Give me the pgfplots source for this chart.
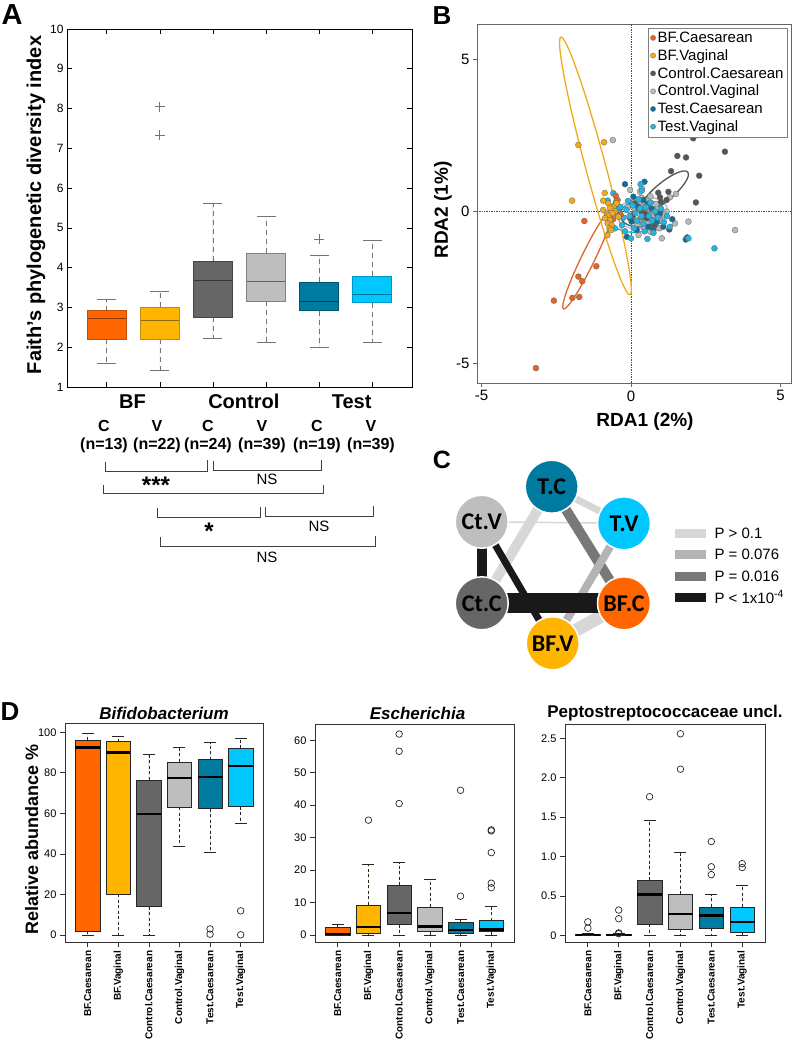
\documentclass[border=0pt]{standalone}
\usepackage{fontspec}
\setmainfont{Liberation Sans}
\newfontfamily\carlito{Carlito}
\usepackage{pgfplots}
\pgfplotsset{compat=1.18}
\usepgfplotslibrary{statistics}
\newcommand{\fs}[1]{\fontsize{#1}{#1}\selectfont}

\definecolor{cBFC}{RGB}{255,102,0}
\definecolor{cBFV}{RGB}{255,180,0}
\definecolor{cCC}{RGB}{102,102,102}
\definecolor{cCV}{RGB}{190,190,190}
\definecolor{cTC}{RGB}{0,123,160}
\definecolor{cTV}{RGB}{0,200,255}
\definecolor{eBFC}{RGB}{190,80,10}
\definecolor{eBFV}{RGB}{190,140,20}
\definecolor{eCC}{RGB}{70,70,70}
\definecolor{eCV}{RGB}{130,130,130}
\definecolor{eTC}{RGB}{0,85,115}
\definecolor{eTV}{RGB}{0,150,200}
\definecolor{pBFC}{RGB}{225,100,40}
\definecolor{pBFV}{RGB}{240,170,30}
\definecolor{pCC}{RGB}{85,85,85}
\definecolor{pCV}{RGB}{185,185,185}
\definecolor{pTC}{RGB}{15,110,150}
\definecolor{pTV}{RGB}{35,180,225}
\definecolor{g1}{RGB}{215,215,215}
\definecolor{g2}{RGB}{180,180,180}
\definecolor{g3}{RGB}{120,120,120}
\definecolor{g4}{RGB}{25,25,25}

% Panel A box: pos, lw, lq, med, uq, uw, fill, edge
\newcommand{\aBox}[8]{%
\addplot[boxplot prepared={draw direction=y, draw position=#1, lower whisker=#2, lower quartile=#3, median=#4, upper quartile=#5, upper whisker=#6, box extend=0.73, whisker extend=0}, fill=#7, draw=#8, line width=0.8pt, boxplot/every whisker/.style={draw=black!55, dash pattern=on 5pt off 4pt, line width=0.7pt}, boxplot/every median/.style={draw=#8!75!black, line width=1pt}] coordinates {};
\addplot[only marks, mark=-, mark size=9.5pt, draw=black!55, mark options={line width=0.9pt}] coordinates {(#1,#2) (#1,#6)};
}
% Panel D box: pos, lw, lq, med, uq, uw, fill
\newcommand{\dBox}[7]{%
\addplot[boxplot prepared={draw direction=y, draw position=#1, lower whisker=#2, lower quartile=#3, median=#4, upper quartile=#5, upper whisker=#6, box extend=0.8, whisker extend=0}, fill=#7, draw=black!85, line width=0.6pt, boxplot/every whisker/.style={draw=black!85, dash pattern=on 3pt off 2.5pt, line width=0.6pt}, boxplot/every median/.style={draw=black, line width=2.4pt}] coordinates {};
\addplot[only marks, mark=-, mark size=6pt, draw=black!85, mark options={line width=0.6pt}] coordinates {(#1,#2) (#1,#6)};
}

\pgfplotsset{
  dax/.style={anchor=north west, scale only axis, xmin=0.26, xmax=6.74,
    xtick={1,2,3,4,5,6},
    xticklabels={BF.Caesarean,BF.Vaginal,Control.Caesarean,Control.Vaginal,Test.Caesarean,Test.Vaginal},
    xticklabel style={rotate=90, anchor=east, font=\bfseries\fs{10}},
    yticklabel style={font=\fs{11}},
    tick align=outside, tick pos=left, major tick length=5pt,
    axis line style={draw=black!80, line width=0.8pt},
    tick style={black!80, line width=0.7pt},
    /pgf/number format/assume math mode=true},
  dout/.style={only marks, mark=o, mark size=3.3pt, black!85, mark options={line width=0.7pt}},
}

\begin{document}
\begin{tikzpicture}
\path[use as bounding box] (0,0) rectangle (792pt,-1049pt);

% ---------------- Panel A ----------------
\begin{axis}[at={(67pt,-29pt)}, anchor=north west, scale only axis, width=345pt, height=358pt,
  xmin=0.25, xmax=6.75, ymin=1, ymax=10, xtick={1,2,3,4,5,6}, xticklabels={}, ytick={1,2,...,10},
  tick align=inside, major tick length=5pt, axis line style={line width=0.8pt},
  tick style={line width=0.7pt, black},
  yticklabel style={font=\fs{12}}, /pgf/number format/assume math mode=true]
\aBox{1}{1.59}{2.20}{2.71}{2.92}{3.19}{cBFC}{eBFC}
\aBox{2}{1.42}{2.20}{2.68}{3.00}{3.39}{cBFV}{eBFV}
\aBox{3}{2.21}{2.75}{3.68}{4.16}{5.61}{cCC}{eCC}
\aBox{4}{2.12}{3.15}{3.66}{4.36}{5.30}{cCV}{eCV}
\aBox{5}{2.00}{2.92}{3.15}{3.63}{4.30}{cTC}{eTC}
\aBox{6}{2.12}{3.12}{3.33}{3.78}{4.69}{cTV}{eTV}
\addplot[only marks, mark=+, mark size=5pt, black!55, mark options={line width=0.8pt}] coordinates {(2,8.05) (2,7.33) (5,4.71)};
\end{axis}

% ---------------- Panel B ----------------
\begin{axis}[at={(477pt,-24pt)}, anchor=north west, scale only axis, width=314pt, height=359pt,
  xmin=-5.15, xmax=5.35, ymin=-5.64, ymax=6.17, xtick={-5,0,5}, ytick={-5,0,5},
  tick align=outside, tick pos=left, major tick length=4pt,
  axis line style={draw=black!60, line width=0.8pt}, tick style={black!60, line width=0.7pt},
  tick label style={font=\fs{15}}, /pgf/number format/assume math mode=true,
  legend style={at={(0.99,0.99)}, anchor=north east, draw=black!50, line width=0.6pt, font=\fs{15}, inner sep=2pt, row sep=1.5pt, cells={anchor=west}},
  legend cell align=left,
  legend image code/.code={\draw[#1] plot coordinates {(0pt,0pt)};},
  ]
\addlegendimage{only marks, mark=*, mark size=2.6pt, fill=pBFC, draw=black!60, line width=0.3pt}
\addlegendentry{BF.Caesarean}
\addlegendimage{only marks, mark=*, mark size=2.6pt, fill=pBFV, draw=black!60, line width=0.3pt}
\addlegendentry{BF.Vaginal}
\addlegendimage{only marks, mark=*, mark size=2.6pt, fill=pCC, draw=black!60, line width=0.3pt}
\addlegendentry{Control.Caesarean}
\addlegendimage{only marks, mark=*, mark size=2.6pt, fill=pCV, draw=black!60, line width=0.3pt}
\addlegendentry{Control.Vaginal}
\addlegendimage{only marks, mark=*, mark size=2.6pt, fill=pTC, draw=black!60, line width=0.3pt}
\addlegendentry{Test.Caesarean}
\addlegendimage{only marks, mark=*, mark size=2.6pt, fill=pTV, draw=black!60, line width=0.3pt}
\addlegendentry{Test.Vaginal}
\addplot[black!70, densely dotted, line width=0.7pt, forget plot] coordinates {(0,-5.64) (0,6.17)};
\addplot[black!70, densely dotted, line width=0.7pt, forget plot] coordinates {(-5.15,0) (5.35,0)};
% Control.Vaginal
\addplot[forget plot, only marks, mark=*, mark size=3pt, mark options={fill=pCV, draw=black!60, line width=0.3pt}] coordinates {
(-0.61,2.35) (-0.03,0.71) (0.36,0.76) (0.30,0.65) (1.30,0.47) (1.50,0.58) (1.19,0.0) (1.92,-0.33) (3.48,-0.61) (1.47,-0.39) (1.03,-0.88) (0.25,-0.77) (0.64,-0.66) (0.1,0.3) (0.3,0.2) (0.5,0.1) (0.7,0.05) (0.9,0.1) (0.4,-0.2) (0.6,-0.35) (0.8,-0.2) (1.0,-0.3) (0.2,-0.4) (0.0,-0.1) (0.35,0.45) (0.55,0.35) (0.15,0.05) (0.75,-0.5) (0.45,-0.55) (0.95,-0.55) (-0.1,0.15) (0.65,0.5) (1.1,-0.1) (0.28,-0.25) (0.5,-0.05) (0.85,0.25) (0.05,-0.3) (0.42,0.05) (0.72,-0.12)};
% Control.Caesarean
\addplot[forget plot, only marks, mark=*, mark size=3pt, mark options={fill=pCC, draw=black!60, line width=0.3pt}] coordinates {
(2.08,2.41) (3.14,1.97) (1.55,1.83) (1.84,1.78) (1.34,1.33) (2.28,1.18) (2.17,0.30) (1.28,-0.59) (0.91,0.62) (1.25,0.65) (0.97,0.47) (1.00,0.32) (1.19,0.38) (0.13,0.27) (0.25,0.10) (0.36,-0.01) (0.08,-0.12) (0.52,-0.22) (0.69,-0.28) (0.80,-0.44) (0.64,-0.50) (0.47,-0.07) (-0.03,-0.22) (0.86,-0.07)};
% Test.Caesarean
\addplot[forget plot, only marks, mark=*, mark size=3pt, mark options={fill=pTC, draw=black!60, line width=0.3pt}] coordinates {
(-0.20,0.90) (0.45,0.98) (1.38,-0.25) (1.83,-0.92) (1.88,-0.85) (-0.14,-0.83) (0.19,-0.61) (0.58,-0.50) (0.75,-0.61) (0.08,0.49) (0.25,0.16) (0.36,-0.17) (0.69,0.10) (0.97,-0.06) (0.41,0.38) (0.02,-0.33) (0.86,-0.33) (1.08,-0.50) (0.55,0.25)};
% Test.Vaginal
\addplot[forget plot, only marks, mark=*, mark size=3pt, mark options={fill=pTV, draw=black!60, line width=0.3pt}] coordinates {
(2.79,-1.21) (0.0,-0.88) (-0.59,0.60) (0.32,0.90) (0.36,0.69) (-0.78,0.36) (-0.42,0.10) (-0.54,-0.55) (1.92,-0.88) (-0.45,-0.1) (-0.35,0.15) (-0.25,-0.2) (-0.15,0.05) (-0.05,-0.15) (0.05,0.2) (0.15,-0.05) (0.2,-0.3) (0.3,0.1) (0.4,-0.4) (0.5,0.15) (0.6,-0.15) (0.7,-0.3) (0.8,0.0) (0.9,-0.2) (1.0,0.1) (1.1,-0.35) (0.1,-0.55) (-0.3,-0.45) (0.45,-0.65) (0.75,-0.7) (1.2,-0.15) (-0.1,0.35) (0.25,0.4) (0.65,0.3) (-0.5,0.3) (0.35,-0.15) (1.3,-0.5) (-0.2,-0.65) (0.55,-0.9)};
% BF.Caesarean
\addplot[forget plot, only marks, mark=*, mark size=3pt, mark options={fill=pBFC, draw=black!60, line width=0.3pt}] coordinates {
(-1.56,-0.31) (-1.16,-1.80) (-1.76,-2.14) (-1.63,-2.29) (-1.96,-2.84) (-1.73,-2.81) (-2.58,-2.93) (-3.18,-5.15) (-0.51,0.52) (-0.45,0.38) (-0.60,-0.25) (-0.35,-0.10) (-0.55,0.20)};
% BF.Vaginal
\addplot[forget plot, only marks, mark=*, mark size=3pt, mark options={fill=pBFV, draw=black!60, line width=0.3pt}] coordinates {
(-1.76,2.19) (-0.90,2.28) (-1.97,0.36) (-0.88,0.61) (-0.79,-0.78) (-0.76,0.27) (-0.93,0.36) (-0.81,-0.06) (-0.74,-0.12) (-0.70,-0.28) (-0.78,-0.39) (-0.65,-0.44) (-0.72,-0.55) (-0.59,0.16) (-0.54,0.0) (-0.87,-0.22) (-0.67,-0.61) (-0.48,0.27) (-0.42,-0.17) (-0.93,0.05) (-0.62,-0.05) (-0.70,0.12)};
% ellipses
\draw[pCV, line width=1.3pt, rotate around={8:(axis cs:0.38,-0.05)}] (axis cs:0.38,-0.05) ellipse [x radius=0.85, y radius=0.52];
\draw[pTC, line width=1.3pt, rotate around={5:(axis cs:0.35,-0.07)}] (axis cs:0.35,-0.07) ellipse [x radius=0.72, y radius=0.44];
\draw[pTV, line width=1.3pt, rotate around={5:(axis cs:0.19,-0.22)}] (axis cs:0.19,-0.22) ellipse [x radius=0.85, y radius=0.46];
\draw[pCC, line width=1.3pt, rotate around={40:(axis cs:1.10,0.64)}] (axis cs:1.10,0.64) ellipse [x radius=1.04, y radius=0.30];
\draw[pBFC, line width=1.3pt, rotate around={64:(axis cs:-1.44,-1.55)}] (axis cs:-1.44,-1.55) ellipse [x radius=1.87, y radius=0.22];
\draw[pBFV, line width=1.3pt, rotate around={105:(axis cs:-1.19,1.50)}] (axis cs:-1.19,1.50) ellipse [x radius=4.46, y radius=0.33];
\end{axis}

% ---------------- Panel D ----------------
\begin{axis}[dax, at={(65pt,-723.3pt)}, width=198.3pt, height=219pt, ymin=-3.5, ymax=104.4, ytick={0,20,...,100}]
\dBox{1}{0}{2.1}{92.4}{96.2}{99.5}{cBFC}
\dBox{2}{0}{20.2}{90.0}{95.4}{97.9}{cBFV}
\dBox{3}{0}{14.1}{59.8}{76.5}{89.0}{cCC}
\dBox{4}{43.7}{63.1}{77.5}{85.4}{92.6}{cCV}
\dBox{5}{40.9}{62.4}{77.8}{86.5}{94.9}{cTC}
\dBox{6}{55.2}{63.4}{83.4}{92.1}{96.9}{cTV}
\addplot[dout] coordinates {(5,3.1) (5,0.5) (6,12.0) (6,0.2)};
\end{axis}

\begin{axis}[dax, at={(315pt,-724.3pt)}, width=199pt, height=218pt, ymin=-2.2, ymax=64.9, ytick={0,10,...,60}]
\dBox{1}{0}{0}{0.3}{2.35}{3.3}{cBFC}
\dBox{2}{0}{0.5}{2.6}{9.3}{21.9}{cBFV}
\dBox{3}{0}{3.2}{6.8}{15.3}{22.3}{cCC}
\dBox{4}{0}{1.1}{2.7}{8.7}{17.1}{cCV}
\dBox{5}{0}{0.6}{1.6}{4.0}{4.9}{cTC}
\dBox{6}{0}{1.1}{1.8}{4.5}{8.8}{cTV}
\addplot[dout] coordinates {(2,35.4) (3,61.9) (3,56.6) (3,40.5) (5,44.6) (5,12.0) (6,32.1) (6,32.4) (6,25.4) (6,16.0) (6,14.6)};
\end{axis}

\begin{axis}[dax, at={(565pt,-724.3pt)}, width=200pt, height=218pt, ymin=-0.09, ymax=2.68, ytick={0,0.5,1,1.5,2,2.5}, yticklabels={0,0.5,1.0,1.5,2.0,2.5}]
\dBox{1}{0}{0}{0.005}{0.015}{0.03}{cBFC}
\dBox{2}{0}{0}{0.004}{0.012}{0.02}{cBFV}
\dBox{3}{0}{0.14}{0.52}{0.70}{1.46}{cCC}
\dBox{4}{0}{0.08}{0.27}{0.52}{1.06}{cCV}
\dBox{5}{0}{0.09}{0.25}{0.36}{0.52}{cTC}
\dBox{6}{0}{0.04}{0.165}{0.36}{0.63}{cTV}
\addplot[dout] coordinates {(1,0.17) (1,0.09) (2,0.32) (2,0.21) (2,0.03) (2,0.02) (3,1.76) (4,2.56) (4,2.11) (5,1.19) (5,0.87) (5,0.77) (6,0.91) (6,0.86)};
\end{axis}

% ---------------- annotations ----------------
\begin{scope}[x=1pt,y=-1pt]
% panel letters
\node[font=\bfseries\fs{29}] at (12,15) {A};
\node[font=\bfseries\fs{26}] at (442,16) {B};
\node[font=\bfseries\fs{25}] at (442,460) {C};
\node[font=\bfseries\fs{26}] at (10,712) {D};
% panel A labels
\node[rotate=90, font=\bfseries\fs{20}] at (36,205) {Faith’s phylogenetic diversity index};
\node[font=\bfseries\fs{20}] at (132.5,401.7) {BF};
\node[font=\bfseries\fs{20}] at (243.8,401.7) {Control};
\node[font=\bfseries\fs{20}] at (351.7,401.7) {Test};
\foreach \x/\t in {104/C,157/V,208/C,262/V,317/C,371/V}
  \node[font=\bfseries\fs{16}] at (\x,425.7) {\t};
\foreach \x/\t in {104/13,157/22,208/24,262/39,317/19,371/39}
  \node[font=\bfseries\fs{16}] at (\x,445) {(n=\t)};
\begin{scope}[black!75, line width=0.8pt]
\draw (105,462) -- (105,471) -- (207.5,471) -- (207.5,460);
\draw (213.3,461) -- (213.3,470) -- (321,470) -- (321,460);
\draw (103.3,485) -- (103.3,493) -- (323,493) -- (323,485);
\draw (157.7,508) -- (157.7,517) -- (260,517) -- (260,507);
\draw (265.7,507) -- (265.7,516) -- (373.3,516) -- (373.3,506);
\draw (160,537) -- (160,546) -- (375,546) -- (375,536);
\end{scope}
\node[font=\bfseries\fs{24}] at (156,485) {***};
\node[font=\fs{15}] at (267,479) {NS};
\node[font=\bfseries\fs{24}] at (209,531) {*};
\node[font=\fs{15}] at (319,526) {NS};
\node[font=\fs{15}] at (267,557) {NS};
% panel B labels
\node[rotate=90, font=\bfseries\fs{19}] at (443,210) {RDA2 (1\%)};
\node[font=\bfseries\fs{19}] at (645,422) {RDA1 (2\%)};
% panel C
\coordinate (TC) at (551.7,486.7);
\coordinate (TV) at (624,523.3);
\coordinate (CtV) at (481.7,521.7);
\coordinate (CtC) at (481.7,603.3);
\coordinate (BFC) at (624,603.3);
\coordinate (BFV) at (552.7,643.3);
\draw[g1, line width=1.5pt] (CtV) -- (TV);
\draw[g1, line width=7pt] (TC) -- (TV);
\draw[g1, line width=10pt] (TC) -- (CtC);
\draw[g3, line width=10pt] (TC) -- (BFC);
\draw[g2, line width=8pt] (TV) -- (BFV);
\draw[g1, line width=13pt] (BFV) -- (BFC);
\draw[g4, line width=10pt] (CtV) -- (CtC);
\draw[g4, line width=7pt] (CtV) -- (BFV);
\draw[g4, line width=20pt] (CtC) -- (BFC);
\foreach \n/\c/\t in {TC/cTC/T.C, TV/cTV/T.V, CtV/cCV/Ct.V, CtC/cCC/Ct.C, BFC/cBFC/BF.C, BFV/cBFV/BF.V}
  \node[circle, fill=\c, draw=white, line width=1.5pt, minimum size=53pt, inner sep=0pt, font=\carlito\bfseries\fs{24}] at (\n) {\t};
\fill[g1] (675,528.5) rectangle (706,537.5);
\fill[g2] (675,549.5) rectangle (706,558.5);
\fill[g3] (675,571.5) rectangle (706,580.5);
\fill[g4] (675,592.5) rectangle (706,601.5);
\node[anchor=west, font=\fs{15}] at (711,533) {P > 0.1};
\node[anchor=west, font=\fs{15}] at (711,554) {P = 0.076};
\node[anchor=west, font=\fs{15}] at (711,576) {P = 0.016};
\node[anchor=west, font=\fs{15}] at (711,597) {P < 1x10\textsuperscript{-4}};
% panel D labels
\node[rotate=90, font=\bfseries\fs{18}] at (31.7,839) {Relative abundance \%};
\node[font=\bfseries\itshape\fs{17}] at (164,713) {Bifidobacterium};
\node[font=\bfseries\itshape\fs{17}] at (417.5,713) {Escherichia};
\node[font=\bfseries\fs{17}] at (665,713) {Peptostreptococcaceae uncl.};
\end{scope}
\end{tikzpicture}
\end{document}
